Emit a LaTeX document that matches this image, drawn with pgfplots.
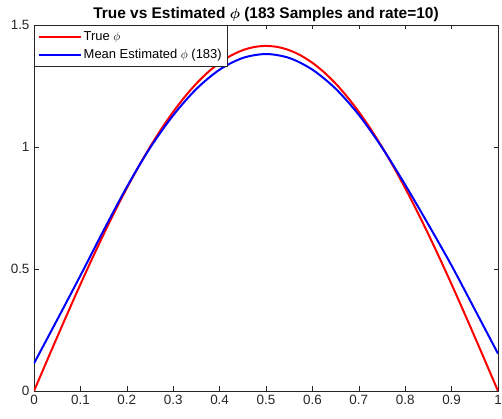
\documentclass[border=0pt]{standalone}
\usepackage{pgfplots}
\pgfplotsset{compat=1.18}
\usepackage{amsmath}
\usepackage{fontspec}
\setmainfont{Liberation Sans}
\definecolor{axgray}{rgb}{0.15,0.15,0.15}
\begin{document}
\begin{tikzpicture}
\begin{axis}[
  name=ax,
  scale only axis,
  width=464bp, height=366bp,
  xmin=0, xmax=1, ymin=0, ymax=1.5,
  xtick={0,0.1,...,1.0},
  ytick={0,0.5,1,1.5},
  xticklabels={0,0.1,0.2,0.3,0.4,0.5,0.6,0.7,0.8,0.9,1},
  yticklabels={0,0.5,1,1.5},
  tick align=inside,
  major tick length=4.5bp,
  axis line style={axgray, line width=0.5bp},
  tick style={axgray, line width=0.5bp},
  ticklabel style={font=\fontsize{13.5}{15}\selectfont, text=axgray},
  xticklabel style={yshift=-1bp},
  yticklabel style={xshift=-1bp},
  title={\textbf{True vs Estimated $\boldsymbol{\phi}$ (183 Samples and rate=10)}},
  title style={font=\fontsize{15.5}{17}\selectfont, yshift=-6bp},
  legend cell align=left,
  legend style={at={(0,1)}, anchor=north west, draw=axgray, line width=0.5bp,
    fill=white, font=\fontsize{13}{15}\selectfont, inner xsep=3.5bp, inner ysep=4.5bp,
    row sep=3bp},
  legend image code/.code={\draw[#1] (0bp,0bp) -- (42bp,0bp);},
]
\addplot[red, line width=2bp, smooth] coordinates {
(0,0) (0.025,0.1110) (0.05,0.2212) (0.075,0.3301) (0.1,0.4370) (0.125,0.5412)
(0.15,0.6420) (0.175,0.7389) (0.2,0.8313) (0.225,0.9185) (0.25,1.0000)
(0.275,1.0754) (0.3,1.1441) (0.325,1.2058) (0.35,1.2601) (0.375,1.3066)
(0.4,1.3450) (0.425,1.3751) (0.45,1.3968) (0.475,1.4099) (0.5,1.4142)
(0.525,1.4099) (0.55,1.3968) (0.575,1.3751) (0.6,1.3450) (0.625,1.3066)
(0.65,1.2601) (0.675,1.2058) (0.7,1.1441) (0.725,1.0754) (0.75,1.0000)
(0.775,0.9185) (0.8,0.8313) (0.825,0.7389) (0.85,0.6420) (0.875,0.5412)
(0.9,0.4370) (0.925,0.3301) (0.95,0.2212) (0.975,0.1110) (1,0)
};
\addlegendentry{True $\phi$}
\addplot[blue, line width=2bp, smooth] coordinates {
(0,0.113) (0.05,0.292) (0.1,0.473) (0.15,0.658) (0.2,0.836) (0.25,0.996)
(0.3,1.130) (0.35,1.238) (0.4,1.317) (0.45,1.365) (0.5,1.381)
(0.55,1.365) (0.6,1.317) (0.65,1.239) (0.7,1.132) (0.75,0.998)
(0.8,0.845) (0.85,0.682) (0.9,0.514) (0.95,0.334) (1,0.153)
};
\addlegendentry{Mean Estimated $\phi$ (183)}
\end{axis}
\pgfresetboundingbox
\path ([shift={(-34bp,-28bp)}]ax.south west) rectangle ([shift={(4bp,25bp)}]ax.north east);
\end{tikzpicture}
\end{document}
